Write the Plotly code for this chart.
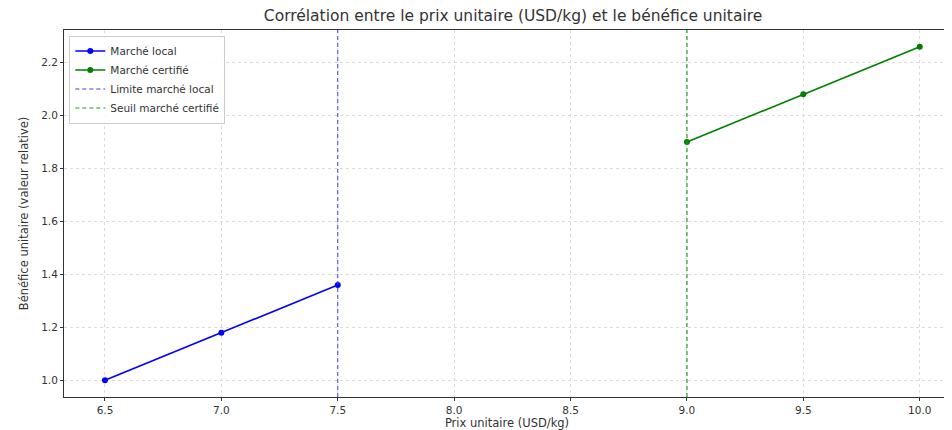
import plotly.graph_objects as go

# données
prix_local = [6.5, 7.0, 7.5]
benef_local = [1.00, 1.18, 1.36]
prix_certif = [9.0, 9.5, 10.0]
benef_certif = [1.90, 2.08, 2.26]
limite_local = 7.5
seuil_certif = 9.0
x_ticks = [6.5, 7.0, 7.5, 8.0, 8.5, 9.0, 9.5, 10.0]
y_ticks = [1.0, 1.2, 1.4, 1.6, 1.8, 2.0, 2.2]

y_range = [0.937, 2.323]

fig = go.Figure()
fig.add_trace(go.Scatter(
    x=prix_local, y=benef_local, mode='lines+markers', name='Marché local',
    line=dict(color='#0000ff', width=1.6), marker=dict(size=6, color='#0000ff')
))
fig.add_trace(go.Scatter(
    x=prix_certif, y=benef_certif, mode='lines+markers', name='Marché certifié',
    line=dict(color='#008000', width=1.6), marker=dict(size=6, color='#008000')
))
fig.add_trace(go.Scatter(
    x=[limite_local, limite_local], y=y_range, mode='lines', name='Limite marché local',
    line=dict(color='#3a3aff', width=1, dash='4px,3px')
))
fig.add_trace(go.Scatter(
    x=[seuil_certif, seuil_certif], y=y_range, mode='lines', name='Seuil marché certifié',
    line=dict(color='#1f9f1f', width=1.2, dash='4px,3px')
))

axis_common = dict(
    showline=True, linecolor='#333333', linewidth=1, mirror=True,
    ticks='outside', ticklen=3, tickcolor='#333333',
    showgrid=True, gridcolor='#dcdcdc', griddash='dot', gridwidth=1,
    zeroline=False, tickfont=dict(size=10.5, color='#333333'), automargin=False,
)

# la page ajoute une marge de 8 px : la figure est décalée d'autant
fig.update_layout(
    width=944, height=422,
    paper_bgcolor='#FFFFFF', plot_bgcolor='#FFFFFF',
    font=dict(family='DejaVu Sans', color='#333333'),
    margin=dict(l=56, r=2, t=22, b=33, autoexpand=False),
    title=dict(
        text='Corrélation entre le prix unitaire (USD/kg) et le bénéfice unitaire',
        x=0.535, xanchor='center', y=0.995, yanchor='top',
        font=dict(size=15.5, color='#333333')
    ),
    xaxis=dict(axis_common, range=[6.324, 10.13], tickvals=x_ticks, tickformat='.1f',
               title=dict(text='Prix unitaire (USD/kg)', font=dict(size=11.5), standoff=5)),
    yaxis=dict(axis_common, range=y_range, tickvals=y_ticks, tickformat='.1f',
               title=dict(text='Bénéfice unitaire (valeur relative)', font=dict(size=11.5), standoff=10)),
    legend=dict(
        x=0.006, y=0.985, xanchor='left', yanchor='top',
        bgcolor='rgba(255,255,255,0.85)', bordercolor='#cccccc', borderwidth=1,
        font=dict(size=10.5, color='#333333'), tracegroupgap=0, itemwidth=30
    ),
)

fig.write_html("out.html")
